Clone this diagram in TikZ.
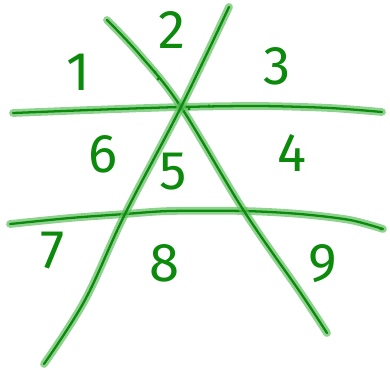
\documentclass[tikz,border=0pt]{standalone}
\usepackage{fontspec}
\setsansfont{Fira Sans}
\usetikzlibrary{calc}
\definecolor{pen}{HTML}{0B8A0B}
\definecolor{halo}{HTML}{5FBF5F}

\begin{document}
\begin{tikzpicture}[
    x=0.02cm, y=-0.02cm,
    line cap=round, line join=round,
    stroke/.style={pen, line width=1.3pt,
      preaction={draw, halo, opacity=0.7, line width=4.4pt}},
    digit/.style={pen, font=\sffamily\fontsize{31}{33}\selectfont, inner sep=0pt},
    dot/.style={pen, fill=pen},
]
\useasboundingbox (0,0) rectangle (390,370);

% ============================================================
% Crossing points
% ============================================================
\coordinate (Apex)  at (181,107);
\coordinate (LeftX) at (125,214);
\coordinate (RgtX)  at (244,211);

% Two roughly horizontal strokes
\draw[stroke] plot[smooth, tension=0.5] coordinates {(13,113) (90,110) (Apex) (260,106) (330,108) (382,112)};
\draw[stroke] plot[smooth, tension=0.5] coordinates {(10,224) (70,218) (LeftX) (170,211) (RgtX) (300,214) (350,220) (383,229)};

% Two slanted strokes through the apex
\draw[stroke] plot[smooth, tension=0.6] coordinates {(107,20) (140,55) (Apex) (RgtX) (300,292) (327,333)};
\draw[stroke] plot[smooth, tension=0.6] coordinates {(229,7) (Apex) (LeftX) (85,300) (44,364)};

% Pen blots
\fill[dot] (155,72) circle (1.6);
\fill[dot] (158,79) circle (1.6);
\fill[dot] (189,109) circle (1.6);
\fill[dot] (209,106) circle (1.6);
\fill[dot] (381,229) circle (1.6);

% ============================================================
% Region numbers
% ============================================================
\node[digit] (n1) at (78,72)  {1};
\node[digit] (n2) at (172,30) {2};
\node[digit] (n3) at (277,66) {3};
\node[digit] (n4) at (292,153) {4};
\node[digit] (n5) at (173,172) {5};
\node[digit] (n6) at (103,154) {6};
\node[digit] (n7) at (53,251) {7};
\node[digit] (n8) at (165,263) {8};
\node[digit] (n9) at (323,264) {9};

\end{tikzpicture}
\end{document}
